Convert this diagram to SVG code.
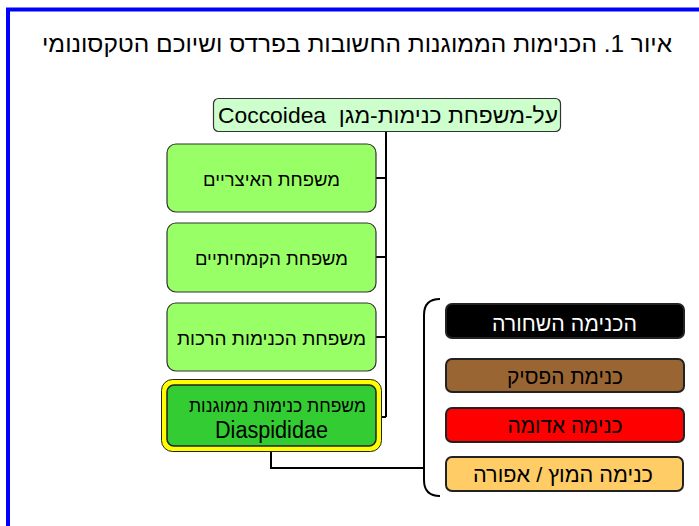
<svg xmlns="http://www.w3.org/2000/svg" width="699" height="526" viewBox="0 0 699 526">
<style>
text{font-family:"Liberation Sans","DejaVu Sans",Arial,sans-serif;text-anchor:middle;direction:rtl}
.fam{fill:#99FF66;stroke:#333;stroke-width:1.2}
.sp{stroke:#222;stroke-width:2}
.t18{font-size:18.5px;fill:#000}
.t21{font-size:21px}
.conn{fill:none;stroke:#000;stroke-width:2}
</style>
<rect width="699" height="526" fill="#fff"/>
<rect x="8" y="9.5" width="720" height="560" fill="none" stroke="#0000FF" stroke-width="4"/>
<text id="title" x="357" y="52" style="font-size:24px" textLength="630" lengthAdjust="spacingAndGlyphs">איור 1. הכנימות הממוגנות החשובות בפרדס ושיוכם הטקסונומי</text>
<g id="connectors">
<path class="conn" d="M386,132 V417 M376,178 H386 M376,257 H386 M376,337 H386 M382,417 H386"/>
<path class="conn" d="M271,452 V468 H424"/>
<path class="conn" d="M440,299 Q424,299 424,315 V480 Q424,496 440,496"/>
</g>
<g id="superfamily">
<rect x="213.5" y="98.5" width="347" height="33" rx="5" fill="#CCFFCC" stroke="#333" stroke-width="1.2"/>
<text x="388" y="123" style="font-size:22px" textLength="340" lengthAdjust="spacingAndGlyphs">על-משפחת כנימות-מגן&#160; Coccoidea</text>
</g>
<g id="fam1">
<rect class="fam" x="167" y="144" width="209" height="68" rx="9"/>
<text class="t18" x="271.5" y="186" textLength="137" lengthAdjust="spacingAndGlyphs">משפחת האיצריים</text>
</g>
<g id="fam2">
<rect class="fam" x="167" y="223" width="209" height="69" rx="9"/>
<text class="t18" x="271.5" y="265" textLength="153" lengthAdjust="spacingAndGlyphs">משפחת הקמחיתיים</text>
</g>
<g id="fam3">
<rect class="fam" x="167" y="303" width="209" height="68" rx="9"/>
<text class="t18" x="271.5" y="345" textLength="189" lengthAdjust="spacingAndGlyphs">משפחת הכנימות הרכות</text>
</g>
<g id="fam4">
<rect x="161.5" y="379.5" width="220" height="72" rx="11" fill="#FFFF00" stroke="#222" stroke-width="1"/>
<rect x="167" y="385" width="209" height="61" rx="7" fill="#33CC33" stroke="#222" stroke-width="1.5"/>
<text class="t18" x="277.5" y="412" textLength="177" lengthAdjust="spacingAndGlyphs">משפחת כנימות ממוגנות</text>
<text x="271.5" y="438" style="font-size:23px;direction:ltr" textLength="113" lengthAdjust="spacingAndGlyphs">Diaspididae</text>
</g>
<g id="sp1">
<rect class="sp" x="446" y="304" width="238" height="34" rx="6" fill="#000"/>
<text class="t21" x="564.5" y="331" fill="#fff" textLength="145" lengthAdjust="spacingAndGlyphs">הכנימה השחורה</text>
</g>
<g id="sp2">
<rect class="sp" x="446" y="359" width="238" height="33" rx="6" fill="#996633"/>
<text class="t21" x="565" y="384" fill="#000" textLength="116" lengthAdjust="spacingAndGlyphs">כנימת הפסיק</text>
</g>
<g id="sp3">
<rect class="sp" x="446" y="408" width="238" height="34" rx="6" fill="#FF0000"/>
<text class="t21" x="565" y="433" fill="#000" textLength="115" lengthAdjust="spacingAndGlyphs">כנימה אדומה</text>
</g>
<g id="sp4">
<rect class="sp" x="446" y="457" width="237" height="34" rx="6" fill="#FFCC66"/>
<text class="t21" x="563" y="482" fill="#000" textLength="180" lengthAdjust="spacingAndGlyphs">כנימה המוץ / אפורה</text>
</g>
</svg>
